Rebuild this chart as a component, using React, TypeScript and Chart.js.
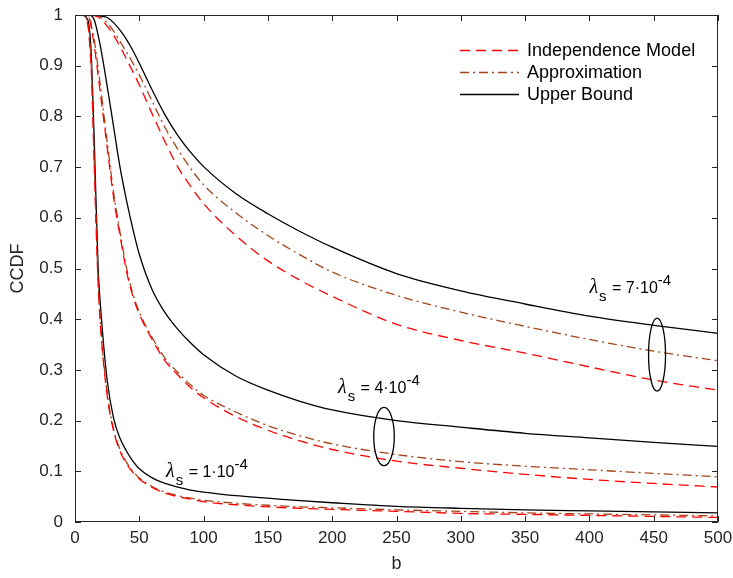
import React, { useEffect, useRef } from "react";
import { Chart, registerables } from "chart.js";

Chart.register(...registerables);

// ---- data ----
const bValues = [0, 5, 10, 12, 13, 15, 18, 20, 25, 30, 35, 40, 45, 50, 60, 70, 80, 90, 100, 125, 150, 175, 200, 250, 300, 350, 400, 450, 500];

const independence7 = [1, 1, 1, 1, 1, 0.999, 0.996, 0.992, 0.978, 0.96, 0.938, 0.913, 0.888, 0.862, 0.805, 0.75, 0.7, 0.662, 0.628, 0.565, 0.515, 0.477, 0.445, 0.39, 0.358, 0.333, 0.306, 0.28, 0.26];
const approximation7 = [1, 1, 1, 1, 1, 1, 0.998, 0.995, 0.985, 0.968, 0.948, 0.927, 0.905, 0.882, 0.83, 0.778, 0.735, 0.697, 0.665, 0.61, 0.565, 0.527, 0.493, 0.447, 0.414, 0.386, 0.36, 0.337, 0.318];
const upperBound7 = [1, 1, 1, 1, 1, 1, 0.999, 0.998, 0.995, 0.985, 0.97, 0.952, 0.93, 0.905, 0.852, 0.803, 0.762, 0.729, 0.701, 0.648, 0.608, 0.573, 0.542, 0.49, 0.456, 0.43, 0.406, 0.388, 0.372];

const independence4 = [1, 1, 1, 0.985, 0.97, 0.94, 0.88, 0.84, 0.74, 0.64, 0.565, 0.495, 0.445, 0.41, 0.36, 0.318, 0.29, 0.265, 0.245, 0.208, 0.181, 0.16, 0.143, 0.12, 0.106, 0.094, 0.084, 0.076, 0.069];
const approximation4 = [1, 1, 1, 0.99, 0.975, 0.95, 0.895, 0.855, 0.75, 0.65, 0.572, 0.502, 0.45, 0.414, 0.364, 0.323, 0.295, 0.27, 0.25, 0.217, 0.19, 0.17, 0.154, 0.133, 0.119, 0.11, 0.103, 0.096, 0.089];
const upperBound4 = [1, 1, 1, 1, 0.998, 0.99, 0.96, 0.935, 0.86, 0.78, 0.7, 0.635, 0.578, 0.528, 0.458, 0.413, 0.38, 0.353, 0.33, 0.288, 0.26, 0.238, 0.221, 0.2, 0.187, 0.175, 0.166, 0.157, 0.149];

const independence1 = [1, 1, 0.98, 0.92, 0.87, 0.7, 0.47, 0.38, 0.25, 0.18, 0.14, 0.115, 0.098, 0.085, 0.068, 0.057, 0.05, 0.045, 0.04, 0.034, 0.03, 0.027, 0.025, 0.021, 0.017, 0.015, 0.013, 0.011, 0.009];
const approximation1 = [1, 1, 0.985, 0.93, 0.88, 0.71, 0.475, 0.385, 0.255, 0.183, 0.143, 0.118, 0.1, 0.087, 0.07, 0.059, 0.052, 0.047, 0.043, 0.037, 0.033, 0.03, 0.028, 0.024, 0.021, 0.018, 0.016, 0.014, 0.012];
const upperBound1 = [1, 1, 0.99, 0.95, 0.9, 0.75, 0.5, 0.42, 0.28, 0.205, 0.165, 0.14, 0.12, 0.105, 0.087, 0.076, 0.069, 0.063, 0.059, 0.052, 0.047, 0.042, 0.038, 0.031, 0.027, 0.024, 0.022, 0.02, 0.018];

const xTickValues = [0, 50, 100, 150, 200, 250, 300, 350, 400, 450, 500];
const yTickValues = [0, 0.1, 0.2, 0.3, 0.4, 0.5, 0.6, 0.7, 0.8, 0.9, 1];
const legendLabels = ["Independence Model", "Approximation", "Upper Bound"];
const lambdaMantissas = ["7", "4", "1"];

// ---- styles / layout ----
const RED = "#ff0000";
const BROWN = "#a4461a";
const BLACK = "#000000";
const AXIS = "#262626";
const FONT = '"Liberation Sans", Arial, Helvetica, sans-serif';

const styleFor = (kind: number) =>
  kind === 0
    ? { borderColor: RED, borderDash: [10, 6] }
    : kind === 1
    ? { borderColor: BROWN, borderDash: [9, 4, 2, 4] }
    : { borderColor: BLACK, borderDash: [] as number[] };

// annotation placement (data coordinates of the text's left baseline)
const textAnchors = [
  { b: 400, v: 0.452 },
  { b: 204.5, v: 0.254 },
  { b: 70.8, v: 0.089 },
];
// ellipses (center b, center v, radius in b units, radius in v units)
const ellipses = [
  { b: 452.6, v: 0.33, rb: 6.6, rv: 0.072 },
  { b: 240.3, v: 0.1685, rb: 8.0, rv: 0.0575 },
];

function toPoints(ys: number[]) {
  return bValues.map((b, i) => ({ x: b, y: ys[i] }));
}

const decorPlugin = {
  id: "decor",
  afterDatasetsDraw(chart: any) {
    const { ctx, chartArea, scales } = chart;
    const xs = scales.x;
    const ys = scales.y;
    const { left, right, top, bottom } = chartArea;
    ctx.save();
    // frame
    ctx.strokeStyle = AXIS;
    ctx.lineWidth = 1;
    ctx.setLineDash([]);
    ctx.beginPath();
    ctx.rect(Math.round(left) + 0.5, Math.round(top) + 0.5, Math.round(right - left) - 1, Math.round(bottom - top) - 1);
    ctx.stroke();
    // inward ticks
    const tl = 6;
    ctx.beginPath();
    xTickValues.forEach((v) => {
      const px = Math.round(xs.getPixelForValue(v)) + 0.5;
      ctx.moveTo(px, bottom);
      ctx.lineTo(px, bottom - tl);
      ctx.moveTo(px, top);
      ctx.lineTo(px, top + tl);
    });
    yTickValues.forEach((v) => {
      const py = Math.round(ys.getPixelForValue(v)) + 0.5;
      ctx.moveTo(left, py);
      ctx.lineTo(left + tl, py);
      ctx.moveTo(right, py);
      ctx.lineTo(right - tl, py);
    });
    ctx.stroke();

    // ellipses
    ctx.strokeStyle = BLACK;
    ctx.lineWidth = 1.3;
    ellipses.forEach((e) => {
      const cx = xs.getPixelForValue(e.b);
      const cy = ys.getPixelForValue(e.v);
      const rx = Math.abs(xs.getPixelForValue(e.b + e.rb) - cx);
      const ry = Math.abs(ys.getPixelForValue(e.v + e.rv) - cy);
      ctx.beginPath();
      ctx.ellipse(cx, cy, rx, ry, 0, 0, Math.PI * 2);
      ctx.stroke();
    });

    // lambda labels
    ctx.fillStyle = "#000";
    ctx.textBaseline = "alphabetic";
    ctx.textAlign = "left";
    textAnchors.forEach((a, i) => {
      let x = xs.getPixelForValue(a.b);
      const y = ys.getPixelForValue(a.v);
      ctx.font = 'italic 20px "Liberation Serif", "DejaVu Serif", serif';
      ctx.fillText("λ", x, y);
      x += ctx.measureText("λ").width + 1;
      ctx.font = `15px ${FONT}`;
      ctx.fillText("s", x, y + 8);
      x += ctx.measureText("s").width + 1;
      ctx.font = `16px ${FONT}`;
      const main = ` = ${lambdaMantissas[i]}\u00b710`;
      ctx.fillText(main, x, y);
      x += ctx.measureText(main).width;
      ctx.font = `15px ${FONT}`;
      ctx.fillText("-4", x, y - 8);
    });

    // legend
    const lx0 = 460;
    const lx1 = 519;
    const rows = [50, 72, 94];
    legendLabels.forEach((label, i) => {
      const st = styleFor(i);
      ctx.strokeStyle = st.borderColor;
      ctx.lineWidth = 1.3;
      ctx.setLineDash(st.borderDash);
      ctx.beginPath();
      ctx.moveTo(lx0, rows[i] + 0.5);
      ctx.lineTo(lx1, rows[i] + 0.5);
      ctx.stroke();
      ctx.setLineDash([]);
      ctx.fillStyle = "#000";
      ctx.font = `18px ${FONT}`;
      ctx.textBaseline = "middle";
      ctx.fillText(label, 527, rows[i] + 1);
    });
    ctx.restore();
  },
};

export default function App() {
  const ref = useRef<HTMLCanvasElement | null>(null);
  useEffect(() => {
    if (!ref.current) return;
    const series = [
      [independence7, 0], [approximation7, 1], [upperBound7, 2],
      [independence4, 0], [approximation4, 1], [upperBound4, 2],
      [independence1, 0], [approximation1, 1], [upperBound1, 2],
    ] as [number[], number][];
    const chart = new Chart(ref.current, {
      type: "line",
      data: {
        datasets: series.map(([ys, kind]) => ({
          label: legendLabels[kind],
          data: toPoints(ys),
          ...styleFor(kind),
          borderWidth: 1.3,
          pointRadius: 0,
          fill: false,
          cubicInterpolationMode: "monotone" as const,
        })),
      },
      options: {
        responsive: false,
        animation: false,
        events: [],
        layout: { padding: { top: 15, right: 15, left: 0, bottom: 0 } },
        plugins: { legend: { display: false }, tooltip: { enabled: false } },
        scales: {
          x: {
            type: "linear",
            min: 0,
            max: 500,
            afterBuildTicks: (s: any) => {
              s.ticks = xTickValues.map((v) => ({ value: v }));
            },
            afterFit: (s: any) => {
              s.height = 56;
              s.paddingLeft = 0;
              s.paddingRight = 0;
            },
            grid: { display: false, drawTicks: false },
            border: { display: false },
            ticks: { color: AXIS, font: { size: 17, family: FONT }, padding: 6, maxRotation: 0 },
            title: { display: true, text: "b", color: AXIS, font: { size: 18, family: FONT }, padding: { top: 0, bottom: 3 } },
          },
          y: {
            type: "linear",
            min: 0,
            max: 1,
            afterBuildTicks: (s: any) => {
              s.ticks = yTickValues.map((v) => ({ value: v }));
            },
            afterFit: (s: any) => {
              s.width = 75;
              s.paddingTop = 0;
              s.paddingBottom = 0;
            },
            grid: { display: false, drawTicks: false },
            border: { display: false },
            ticks: {
              color: AXIS,
              font: { size: 17, family: FONT },
              padding: 12,
              callback: (v: any) => String(Math.round(Number(v) * 10) / 10),
            },
            title: { display: true, text: "CCDF", color: AXIS, font: { size: 18, family: FONT }, padding: { top: 7, bottom: 0 } },
          },
        },
      },
      plugins: [decorPlugin],
    });
    return () => chart.destroy();
  }, []);
  return (
    <div style={{ position: "absolute", left: 0, top: 0, width: 733, height: 578, background: "#fff" }}>
      <canvas ref={ref} width={733} height={578} style={{ display: "block" }} />
    </div>
  );
}
